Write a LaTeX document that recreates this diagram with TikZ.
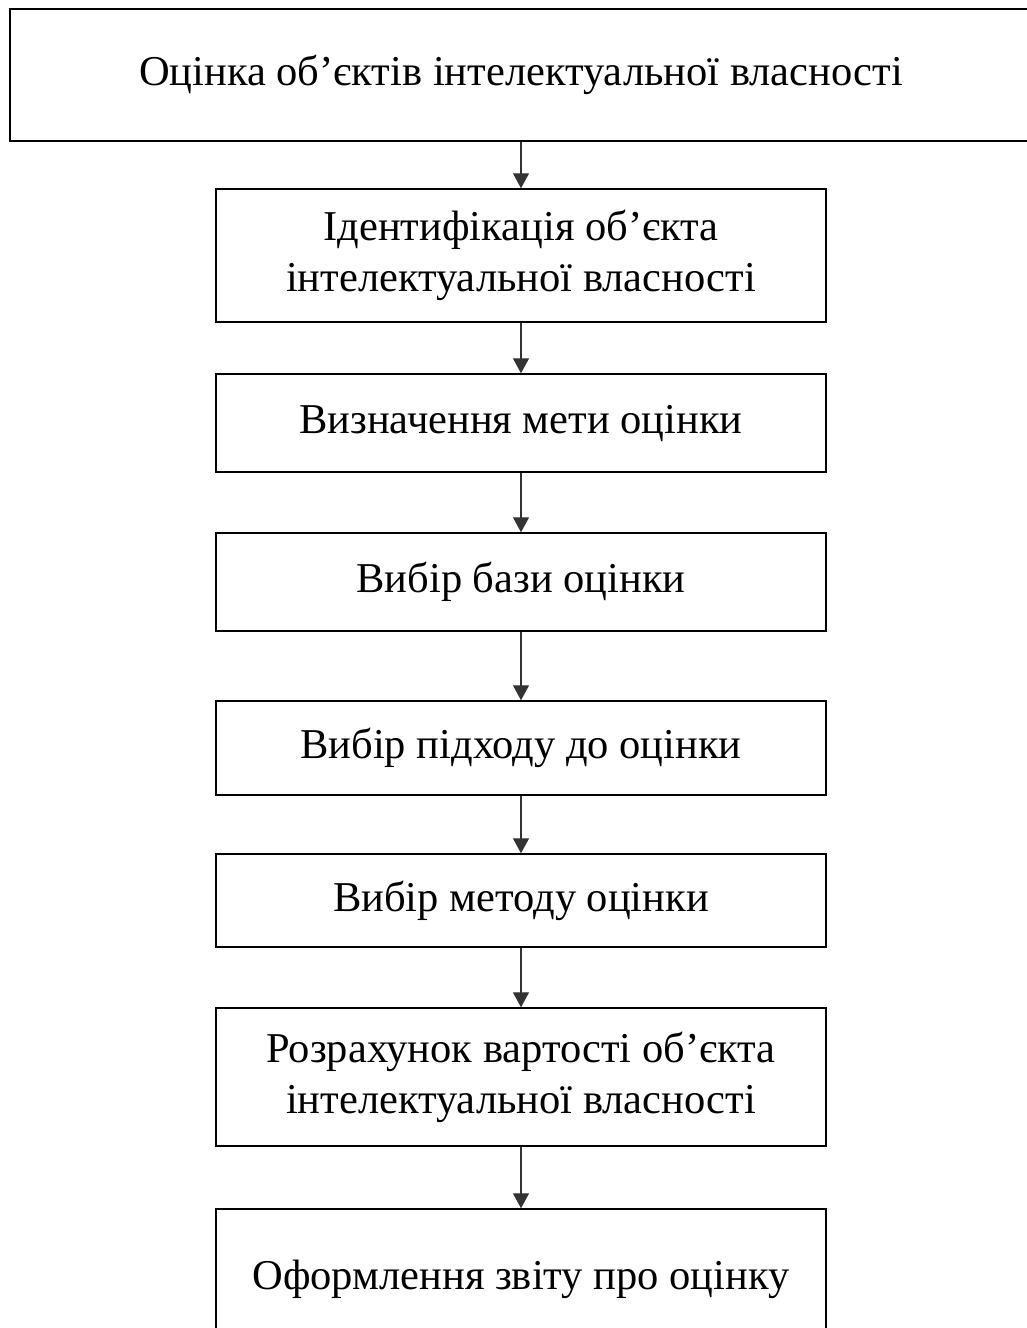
\documentclass[tikz,border=0pt]{standalone}
\usepackage{fontspec}
\setmainfont{Liberation Serif}
\usetikzlibrary{arrows.meta, positioning}

\begin{document}
\begin{tikzpicture}[
  x=1pt, y=-1pt,
  stage/.style={draw=black, line width=2pt, minimum width=610pt,
                align=center, inner sep=0pt,
                font=\fontsize{42.5}{51}\selectfont},
  arr/.style={-{Triangle[length=15pt, width=16pt]}, line width=1.4pt, color=black!80}
]
  \useasboundingbox (0,0) rectangle (1027,1328);
  \clip (0,0) rectangle (1027,1328);

  \node[stage, minimum width=1022pt, minimum height=132pt, line width=2.5pt] (root) at (521,75)
    {Оцінка об’єктів інтелектуальної власності};
  \node[stage, minimum height=133pt, below=46pt of root] (ident)
    {Ідентифікація об’єкта\\інтелектуальної власності};
  \node[stage, minimum height=98pt, below=50pt of ident] (goal)
    {Визначення мети оцінки};
  \node[stage, minimum height=98pt, below=59pt of goal] (basis)
    {Вибір бази оцінки};
  \node[stage, minimum height=94pt, below=68pt of basis] (approach)
    {Вибір підходу до оцінки};
  \node[stage, minimum height=93pt, below=57pt of approach] (method)
    {Вибір методу оцінки};
  \node[stage, minimum height=138pt, below=59pt of method] (calc)
    {Розрахунок вартості об’єкта\\інтелектуальної власності};
  \node[stage, minimum height=140pt, below=61pt of calc] (report)
    {Оформлення звіту про оцінку};

  \draw[arr] (root) -- (ident);
  \draw[arr] (ident) -- (goal);
  \draw[arr] (goal) -- (basis);
  \draw[arr] (basis) -- (approach);
  \draw[arr] (approach) -- (method);
  \draw[arr] (method) -- (calc);
  \draw[arr] (calc) -- (report);
\end{tikzpicture}
\end{document}
